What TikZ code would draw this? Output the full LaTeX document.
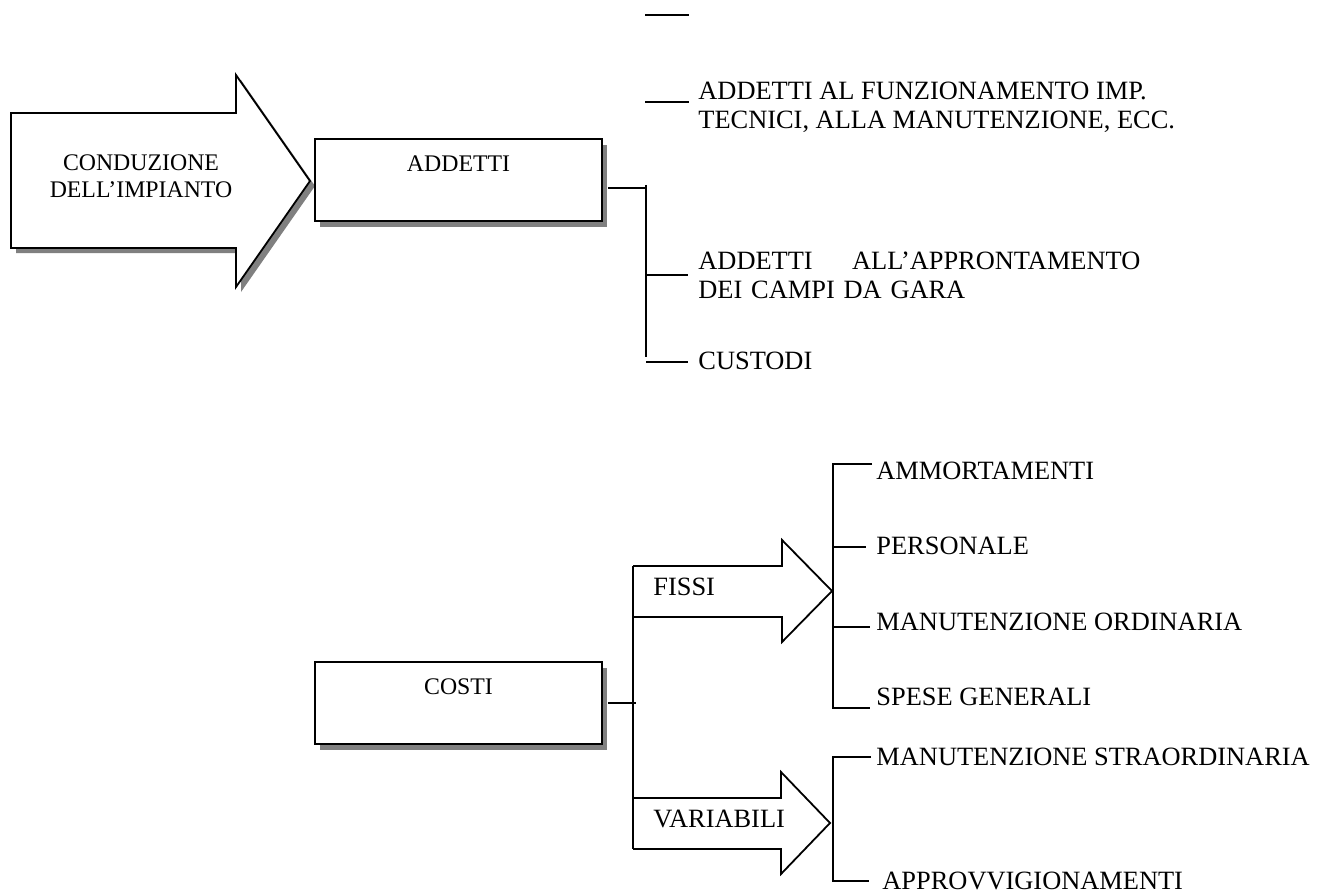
\documentclass[tikz,border=0pt]{standalone}
\usepackage{fontspec}
\setmainfont{Liberation Serif}
\usetikzlibrary{positioning,shadows}
\tikzset{
  box/.style={draw, fill=white, line width=0.9pt, inner sep=0pt,
              minimum width=143.5pt, minimum height=41pt,
              drop shadow={shadow xshift=2.5pt, shadow yshift=-3pt, fill=black!50, opacity=1}},
  boxtxt/.style={inner sep=0pt, font=\fontsize{11.9pt}{13.5pt}\selectfont},
  lbl/.style={anchor=north west, inner sep=0pt, align=left},
  ln/.style={line width=0.9pt},
}

\begin{document}
\begin{tikzpicture}[x=0.5pt, y=-0.5pt, font=\fontsize{13.2pt}{14.3pt}\selectfont]
  \useasboundingbox (0,0) rectangle (1331,893);

  % upper part
  \draw[ln, fill=white, drop shadow={shadow xshift=2.5pt, shadow yshift=-2.5pt, fill=black!50, opacity=1}]
    (11,113) -- (236,113) -- (236,75) -- (310,181) -- (236,287) -- (236,248) -- (11,248) -- cycle;
  \node[boxtxt, align=center] (cond) at (141,176) {CONDUZIONE\\DELL’IMPIANTO};

  \node[box] (addetti) at (458.5,180) {};
  \node[boxtxt, below=8.5pt of addetti.north] (addettitxt) {ADDETTI};

  \coordinate (s0) at (645,15);
  \coordinate (s1) at (689,15);
  \draw[ln] (s0) -- (s1);
  \node[lbl] (funz) at (698,82) {ADDETTI AL FUNZIONAMENTO IMP.\\TECNICI, ALLA MANUTENZIONE, ECC.};
  \coordinate (s2) at (645,102);
  \draw[ln] (s2) -- ([xshift=-4.5pt]s2 -| funz.west);

  \coordinate (aj) at (646,188);
  \coordinate (at) at (646,185);
  \coordinate (ab) at (646,357);
  \coordinate (ab1) at (646,275);
  \coordinate (ab2) at (646,362);
  \node[lbl, text width=221pt] (appr) at (698,252) {ADDETTI\hfill ALL’APPRONTAMENTO\\DEI CAMPI DA GARA};
  \node[lbl] (cust) at (698,352) {CUSTODI};
  \draw[ln] ([xshift=2.5pt]addetti.east |- aj) -- (aj);
  \draw[ln] (at) -- (ab);
  \draw[ln] (ab1) -- ([xshift=-5pt]ab1 -| appr.west);
  \draw[ln] (ab2) -- ([xshift=-5pt]ab2 -| cust.west);

  % lower part
  \node[box] (costi) at (458.5,703) {};
  \node[boxtxt, below=8.5pt of costi.north] (costitxt) {COSTI};

  \coordinate (cj) at (633,703);
  \coordinate (ct) at (633,566);
  \coordinate (cb) at (633,849);
  \draw[ln] ([xshift=2.5pt]costi.east) -- ([xshift=1.5pt]cj);
  \draw[ln] (ct) -- (cb);

  \coordinate (ftip) at (832,591);
  \coordinate (vtip) at (830,823);
  \draw[ln] (ct) -- (782,566) -- (782,540) -- (ftip) -- (782,642) -- (782,617) -- (633,617);
  \draw[ln] (633,798) -- (781,798) -- (781,772) -- (vtip) -- (781,874) -- (781,849) -- (cb);
  \node[lbl] (fissi) at (653,578) {FISSI};
  \node[lbl] (var) at (653,810) {VARIABILI};

  \node[lbl] (amm) at (876,462) {AMMORTAMENTI};
  \node[lbl] (pers) at (876,537) {PERSONALE};
  \node[lbl] (mord) at (876,613) {MANUTENZIONE ORDINARIA};
  \node[lbl] (spese) at (876,688) {SPESE GENERALI};
  \node[lbl] (mstr) at (876,748) {MANUTENZIONE STRAORDINARIA};
  \node[lbl] (appv) at (882,872) {APPROVVIGIONAMENTI};

  \coordinate (f1) at (833,464);
  \coordinate (f2) at (833,547);
  \coordinate (f3) at (833,627);
  \coordinate (f4) at (833,708);
  \coordinate (v1) at (833,757);
  \coordinate (v2) at (833,881);
  \draw[ln] ([xshift=-2pt]f1 -| amm.west) -- (f1) -- (f4) -- ([xshift=-3pt]f4 -| spese.west);
  \draw[ln] (f2) -- ([xshift=-5pt]f2 -| pers.west);
  \draw[ln] (f3) -- ([xshift=-3pt]f3 -| mord.west);
  \draw[ln] ([xshift=-2.5pt]v1 -| mstr.west) -- (v1) -- (v2) -- ([xshift=-6.5pt]v2 -| appv.west);
\end{tikzpicture}
\end{document}
